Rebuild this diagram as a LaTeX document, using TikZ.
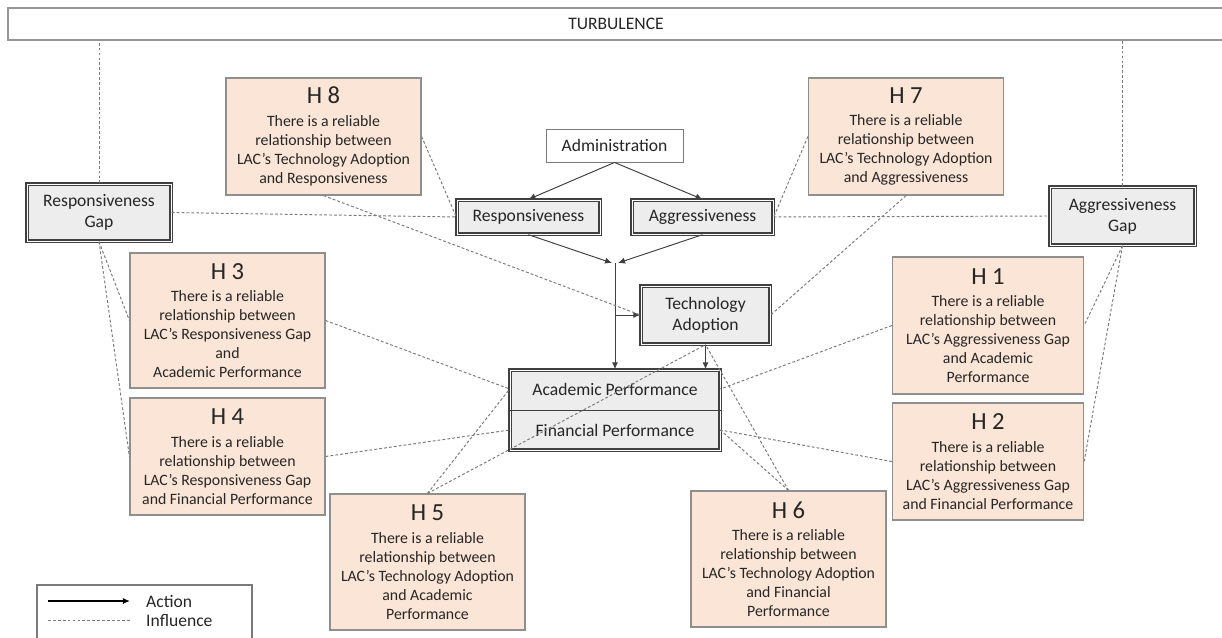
\documentclass[tikz,border=0pt]{standalone}
\usepackage{fontspec}
\setmainfont{Carlito}
\usepackage{tikz}
\usetikzlibrary{arrows.meta,positioning}
\definecolor{peach}{HTML}{FBE5D6}
\definecolor{peachedge}{HTML}{8F8F8F}
\definecolor{boxgray}{HTML}{EDEDED}
\definecolor{edgegray}{HTML}{404040}
\definecolor{linegray}{HTML}{7A7A7A}
\definecolor{txtgray}{HTML}{262626}
\newcommand{\htitle}[1]{{\fontsize{14}{14}\selectfont #1}\\[2pt]}

\begin{document}
\begin{tikzpicture}[x=0.02cm, y=-0.02cm,
    hbox/.style={rectangle, draw=peachedge, fill=peach, line width=0.7pt,
                minimum width=3.9cm, inner sep=0pt, text=txtgray,
                font=\fontsize{9}{10.8}\selectfont, align=center},
    gbox/.style={rectangle, draw=edgegray, fill=boxgray, line width=0.8pt,
                double=white, double distance=0.55pt, inner sep=0pt,
                text=txtgray, font=\fontsize{10}{12}\selectfont, align=center},
    wbox/.style={rectangle, draw=linegray, fill=white, line width=0.5pt,
                inner sep=0pt, text=txtgray,
                font=\fontsize{10}{12}\selectfont, align=center},
    infl/.style={draw=linegray, line width=0.55pt, dash pattern=on 1.6pt off 1.2pt},
    act/.style={draw=edgegray, line width=0.55pt, -{Latex[length=4pt,width=3.5pt]}},
]

% frame
\useasboundingbox (0,0) rectangle (1222,638);

% environment
\node[wbox, draw=linegray!80, line width=0.9pt, minimum width=24.32cm, minimum height=0.64cm] (turb) at (616,24) {TURBULENCE};

% constructs
\node[wbox, minimum width=2.74cm, minimum height=0.66cm] (admin) at (614.5,145.5) {Administration};
\node[gbox, minimum width=2.86cm, minimum height=0.68cm] (resp) at (528.5,217) {Responsiveness};
\node[gbox, minimum width=2.82cm, minimum height=0.68cm] (aggr) at (702.5,217) {Aggressiveness};
\node[gbox, minimum width=2.88cm, minimum height=1.14cm] (rgap) at (99,212.5) {Responsiveness\\Gap};
\node[gbox, minimum width=2.90cm, minimum height=1.16cm] (agap) at (1122.5,216) {Aggressiveness\\Gap};
\node[gbox, minimum width=2.58cm, minimum height=1.16cm] (tech) at (705.5,315) {Technology\\Adoption};
\node[gbox, minimum width=4.2cm, minimum height=1.6cm] (perf) at (615,410) {};
\draw[edgegray, line width=0.5pt] (perf.west) -- (perf.east);
\node[text=txtgray, font=\fontsize{10}{12}\selectfont, minimum width=4.2cm] (acad) at (615,389) {Academic Performance};
\node[text=txtgray, font=\fontsize{10}{12}\selectfont, minimum width=4.2cm] (fin) at (615,430) {Financial Performance};

% hypotheses
\node[hbox, minimum height=2.34cm] (h8) at (323.5,136.5) {\htitle{H 8}There is a reliable\\relationship between\\LAC’s Technology Adoption\\and Responsiveness};
\node[hbox, minimum height=2.34cm] (h7) at (906,136.5) {\htitle{H 7}There is a reliable\\relationship between\\LAC’s Technology Adoption\\and Aggressiveness};
\node[hbox, minimum height=2.7cm] (h3) at (227.5,320.5) {\htitle{H 3}There is a reliable\\relationship between\\LAC’s Responsiveness Gap\\and\\Academic Performance};
\node[hbox, minimum height=2.34cm] (h4) at (227.5,456.5) {\htitle{H 4}There is a reliable\\relationship between\\LAC’s Responsiveness Gap\\and Financial Performance};
\node[hbox, minimum height=2.72cm] (h5) at (427.5,562) {\htitle{H 5}There is a reliable\\relationship between\\LAC’s Technology Adoption\\and Academic\\Performance};
\node[hbox, minimum height=2.72cm] (h6) at (788.5,559) {\htitle{H 6}There is a reliable\\relationship between\\LAC’s Technology Adoption\\and Financial\\Performance};
\node[hbox, minimum width=3.82cm, minimum height=2.74cm] (h1) at (988,325.5) {\htitle{H 1}There is a reliable\\relationship between\\LAC’s Aggressiveness Gap\\and Academic\\Performance};
\node[hbox, minimum width=3.82cm, minimum height=2.34cm] (h2) at (988,461.5) {\htitle{H 2}There is a reliable\\relationship between\\LAC’s Aggressiveness Gap\\and Financial Performance};

% actions
\coordinate (jl) at (612,263);
\coordinate (jr) at (618,263);
\coordinate (join) at (615,263);
\coordinate (branch) at (615,315);
\draw[act] (admin.south) -- (resp.north);
\draw[act] (admin.south) -- (aggr.north);
\draw[act] (resp.south) -- (jl);
\draw[act] (aggr.south) -- (jr);
\draw[act] (join) -- (perf.north);
\draw[act] (branch) -- (tech.west);
\draw[act] (tech.south) -- (tech.south |- perf.north);

% influences
\draw[infl] (rgap.north) -- (rgap.north |- turb.south);
\draw[infl] (agap.north) -- (agap.north |- turb.south);
\draw[infl] (rgap.east) -- (resp.west);
\draw[infl] (aggr.east) -- (agap.west);
\draw[infl] (h8.east) -- (resp.west);
\draw[infl] (h8.south) -- (tech.west);
\draw[infl] (h7.west) -- (aggr.east);
\draw[infl] (h7.south) -- (tech.east);
\draw[infl] (rgap.south) -- (h3.west);
\draw[infl] (rgap.south) -- (h4.west);
\draw[infl] (h3.east) -- (acad.west);
\draw[infl] (h4.east) -- (fin.west);
\draw[infl] (h5.north) -- (acad.west);
\draw[infl] (h5.north) -- (tech.south);
\draw[infl] (h6.north) -- (tech.south);
\draw[infl] (h6.north) -- (fin.east);
\draw[infl] (agap.south) -- (h1.east);
\draw[infl] (agap.south) -- (h2.east);
\draw[infl] (h1.west) -- (acad.east);
\draw[infl] (h2.west) -- (fin.east);

% legend
\node[wbox, draw=linegray, line width=0.7pt, minimum width=4.3cm, minimum height=1.4cm] (leg) at (144.5,620) {};
\coordinate (l1) at (48,601);
\coordinate (l2) at (130,601);
\coordinate (l3) at (48,620);
\coordinate (l4) at (130,620);
\draw[black, line width=0.8pt, -{Latex[length=4pt,width=3.5pt]}] (l1) -- (l2);
\draw[infl, line width=0.4pt] (l3) -- (l4);
\node[anchor=west, text=txtgray, font=\fontsize{10}{12}\selectfont] (lact) at (140,601) {Action};
\node[anchor=west, text=txtgray, font=\fontsize{10}{12}\selectfont] (linf) at (140,621) {Influence};

\end{tikzpicture}
\end{document}
